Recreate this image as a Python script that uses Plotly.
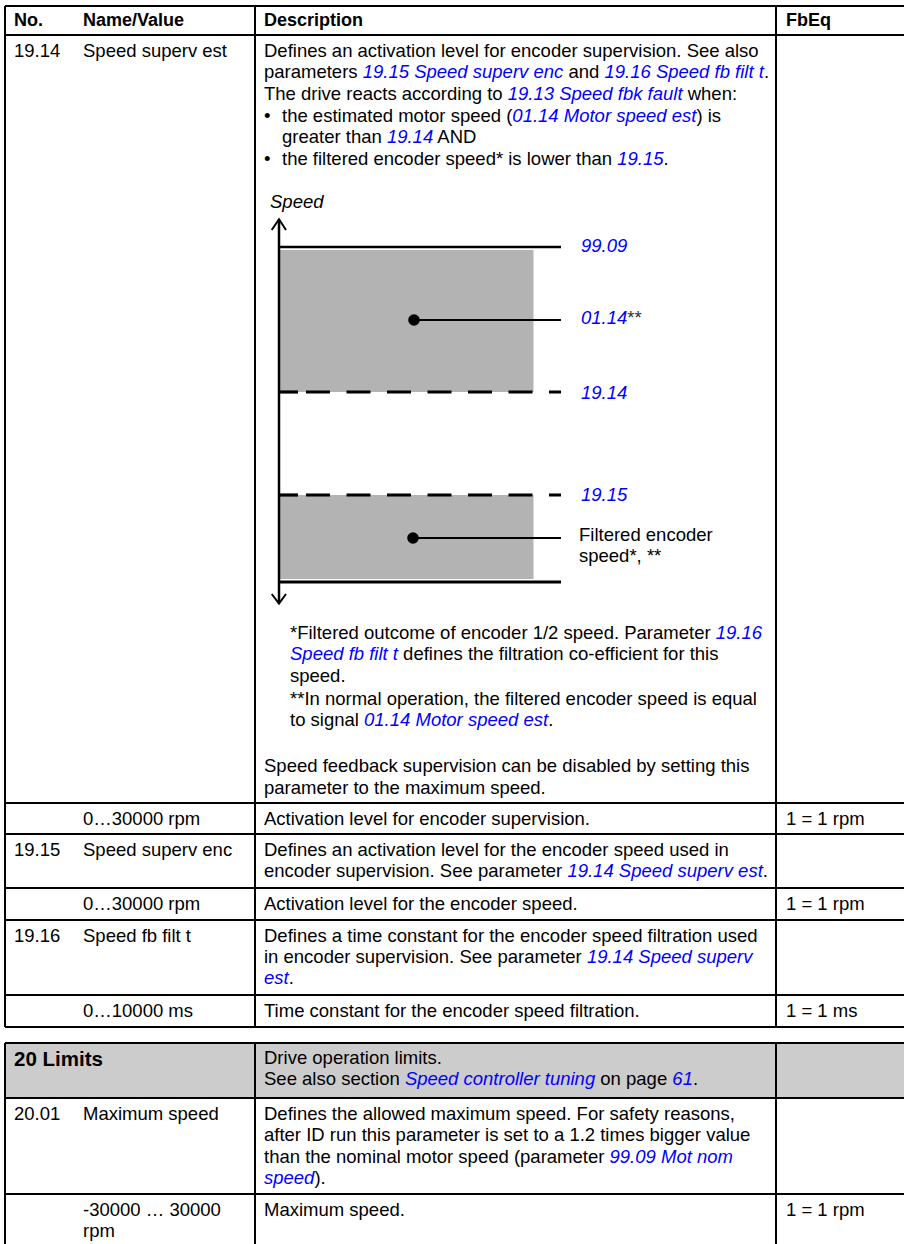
import re
import plotly.graph_objects as go

# ---------------- data ----------------
header_cols = ["No.", "Name/Value", "Description", "FbEq"]

param_no = ["19.14", "", "19.15", "", "19.16", ""]
param_name = ["Speed superv est", "0…30000 rpm", "Speed superv enc",
              "0…30000 rpm", "Speed fb filt t", "0…10000 ms"]
param_fbeq = ["", "1 = 1 rpm", "", "1 = 1 rpm", "", "1 = 1 ms"]

desc_1914_intro = [
    "Defines an activation level for encoder supervision. See also",
    "parameters [19.15 Speed superv enc] and [19.16 Speed fb filt t].",
    "The drive reacts according to [19.13 Speed fbk fault] when:",
]
desc_1914_bullets = [
    ["the estimated motor speed ([01.14 Motor speed est]) is", "greater than [19.14] AND"],
    ["the filtered encoder speed* is lower than [19.15]."],
]
desc_1914_notes = [
    "*Filtered outcome of encoder 1/2 speed. Parameter [19.16]",
    "[Speed fb filt t] defines the filtration co-efficient for this",
    "speed.",
    "**In normal operation, the filtered encoder speed is equal",
    "to signal [01.14 Motor speed est].",
]
desc_1914_end = [
    "Speed feedback supervision can be disabled by setting this",
    "parameter to the maximum speed.",
]
desc_other = [
    ["Activation level for encoder supervision."],
    ["Defines an activation level for the encoder speed used in",
     "encoder supervision. See parameter [19.14 Speed superv est]."],
    ["Activation level for the encoder speed."],
    ["Defines a time constant for the encoder speed filtration used",
     "in encoder supervision. See parameter [19.14 Speed superv]",
     "[est]."],
    ["Time constant for the encoder speed filtration."],
]

group_title = "20 Limits"
group_desc = ["Drive operation limits.",
              "See also section [Speed controller tuning] on page [61]."]
g_no = ["20.01", ""]
g_name = [["Maximum speed"], ["-30000 … 30000", "rpm"]]
g_desc = [
    ["Defines the allowed maximum speed. For safety reasons,",
     "after ID run this parameter is set to a 1.2 times bigger value",
     "than the nominal motor speed (parameter [99.09 Mot nom]",
     "[speed])."],
    ["Maximum speed."],
]
g_fbeq = ["", "1 = 1 rpm"]

diagram_axis_label = "Speed"
diagram_levels = ["99.09", "01.14", "19.14", "19.15"]
diagram_enc_label = ["Filtered encoder", "speed*, **"]

# ---------------- layout / style ----------------
W, H = 904, 1244
FONT = "Liberation Sans, Arial, Helvetica, sans-serif"
FS = 18.5
BLUE = "#0000ff"
LW = 2
X_LEFT, X_C3, X_C4, X_RIGHT = 5, 255, 776, 906
TX1, TX2, TX3, TX4 = 13, 82, 263, 785
LS = 21

t1_lines = [6, 35, 803, 834, 888, 920, 995, 1027]
t2_lines = [1043, 1098, 1194]

shapes = []
annots = []


def rich(s):
    return re.sub(r"\[([^\]]+)\]",
                  lambda m: "<span style='color:%s'><i>%s</i></span>" % (BLUE, m.group(1)), s)


def txt(x, y, s, bold=False, italic=False, size=FS, color="black"):
    t = rich(s)
    if italic:
        t = "<i>" + t + "</i>"
    if bold:
        t = "<b>" + t + "</b>"
    annots.append(dict(x=x, y=y, xref="x", yref="y", text=t, showarrow=False,
                       xanchor="left", yanchor="middle",
                       font=dict(family=FONT, size=size, color=color), borderpad=0))


def hline(y, x0=X_LEFT, x1=X_RIGHT, w=LW, dash=None):
    ln = dict(color="black", width=w)
    if dash:
        ln["dash"] = dash
    shapes.append(dict(type="line", xref="x", yref="y", x0=x0, x1=x1, y0=y, y1=y, line=ln))


def vline(x, y0, y1, w=LW):
    shapes.append(dict(type="line", xref="x", yref="y", x0=x, x1=x, y0=y0, y1=y1,
                       line=dict(color="black", width=w)))


# ----- table 1 -----
for y in t1_lines:
    hline(y)
for x in (X_LEFT, X_C3, X_C4):
    vline(x, t1_lines[0], t1_lines[-1])

for i, h in enumerate(header_cols):
    txt([TX1, TX2, TX3, TX4][i], 20, h, bold=True, size=18)

# row 19.14
y0 = t1_lines[1] + 15
txt(TX1, y0, param_no[0])
txt(TX2, y0, param_name[0])
ys = [y0, y0 + 21, y0 + 43]
for y, s in zip(ys, desc_1914_intro):
    txt(TX3, y, s)
yb = y0 + 65
for blines in desc_1914_bullets:
    txt(TX3, yb, "•")
    for j, s in enumerate(blines):
        txt(281, yb + j * LS, s)
    yb += len(blines) * LS + 1

note_y = [632, 653, 675, 698, 719]
for y, s in zip(note_y, desc_1914_notes):
    txt(289, y, s)
for j, s in enumerate(desc_1914_end):
    txt(TX3, 765 + j * 22, s)

# other rows of table 1
for r in range(1, 6):
    ytop = t1_lines[r + 1] + 15.5
    if param_no[r]:
        txt(TX1, ytop, param_no[r])
    txt(TX2, ytop, param_name[r])
    for j, s in enumerate(desc_other[r - 1]):
        txt(TX3, ytop + j * LS, s)
    if param_fbeq[r]:
        txt(TX4, ytop, param_fbeq[r])

# ----- table 2 -----
shapes.append(dict(type="rect", xref="x", yref="y", x0=X_LEFT, x1=X_RIGHT,
                   y0=t2_lines[0], y1=t2_lines[1], fillcolor="#cccccc",
                   line=dict(width=0), layer="below"))
for y in t2_lines:
    hline(y)
for x in (X_LEFT, X_C3, X_C4):
    vline(x, t2_lines[0], H + 5)

txt(TX1, t2_lines[0] + 15.5, group_title, bold=True, size=20.5)
for j, s in enumerate(group_desc):
    txt(TX3, t2_lines[0] + 14.5 + j * LS, s)

for r in range(2):
    ytop = t2_lines[r + 1] + 15.5
    if g_no[r]:
        txt(TX1, ytop, g_no[r])
    for j, s in enumerate(g_name[r]):
        txt(TX2, ytop + j * LS, s)
    for j, s in enumerate(g_desc[r]):
        txt(TX3, ytop + j * 21.3, s)
    if g_fbeq[r]:
        txt(TX4, ytop, g_fbeq[r])

# ----- diagram -----
AX = 279
XR = 561
XG = 533.5
GRAY = "#b3b3b3"
lvl_y = [247, 320, 392, 495]
dot_x = [414, 413]
enc_y = 538
bottom_y = 582

shapes.append(dict(type="rect", xref="x", yref="y", x0=AX, x1=XG, y0=250, y1=lvl_y[2],
                   fillcolor=GRAY, line=dict(width=0), layer="below"))
shapes.append(dict(type="rect", xref="x", yref="y", x0=AX, x1=XG, y0=lvl_y[3], y1=579,
                   fillcolor=GRAY, line=dict(width=0), layer="below"))
vline(AX, 219.5, 603, w=2.5)
shapes.append(dict(type="path", xref="x", yref="y",
                   path="M 271.7 230 L 279 219.3 L 286 230",
                   line=dict(color="black", width=2)))
shapes.append(dict(type="path", xref="x", yref="y",
                   path="M 271.7 594 L 279 603.5 L 286 594",
                   line=dict(color="black", width=2)))
hline(lvl_y[0], AX, XR, w=2.6)
hline(bottom_y, AX, XR, w=2.8)
for y in (lvl_y[2], lvl_y[3]):
    hline(y, AX, 298, w=3.2)
    hline(y, 306, XR, w=3.2, dash="24px,16.5px")
for dx, dy in ((dot_x[0], lvl_y[1]), (dot_x[1], enc_y)):
    hline(dy, dx, XR, w=2.2)
    shapes.append(dict(type="circle", xref="x", yref="y", x0=dx - 5.8, x1=dx + 5.8,
                       y0=dy - 5.8, y1=dy + 5.8, fillcolor="black", line=dict(width=0)))

txt(269, 201, diagram_axis_label, italic=True)
txt(580, lvl_y[0] - 2, "[%s]" % diagram_levels[0])
txt(580, lvl_y[1] - 3, "[%s]<span style='color:#333333'>**</span>" % diagram_levels[1])
txt(580, lvl_y[2], "[%s]" % diagram_levels[2])
txt(580, lvl_y[3] - 1, "[%s]" % diagram_levels[3])
txt(578, 534, diagram_enc_label[0])
txt(578, 555, diagram_enc_label[1])

fig = go.Figure()
fig.update_layout(
    width=W, height=H, margin=dict(l=0, r=0, t=0, b=0),
    paper_bgcolor="white", plot_bgcolor="white",
    xaxis=dict(range=[0, W], visible=False, fixedrange=True),
    yaxis=dict(range=[H, 0], visible=False, fixedrange=True),
    shapes=shapes, annotations=annots, showlegend=False,
)
fig.write_html("out.html", config={"displayModeBar": False, "staticPlot": True},
               post_script="document.body.style.margin='0';")
